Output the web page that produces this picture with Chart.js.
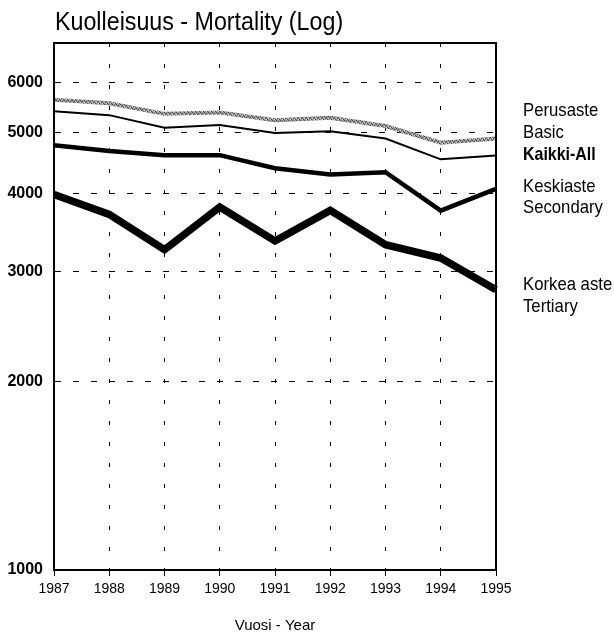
<!DOCTYPE html>
<html>
<head>
<meta charset="utf-8">
<title>Kuolleisuus - Mortality (Log)</title>
<script src="https://cdn.jsdelivr.net/npm/chart.js@4.4.1/dist/chart.umd.min.js"></script>
<style>
    html, body { margin: 0; padding: 0; background: #fff; }
    #wrap { position: relative; width: 614px; height: 635px; }
</style>
</head>
<body>
<div id="wrap"><canvas id="chart"></canvas></div>
<script>
// data

const years = ['1987','1988','1989','1990','1991','1992','1993','1994','1995'];

const basic     = [5640, 5570, 5355, 5380, 5230, 5280, 5120, 4815, 4890];
const all       = [5405, 5330, 5090, 5140, 4990, 5025, 4890, 4530, 4595];
const secondary = [4770, 4670, 4600, 4600, 4385, 4285, 4320, 3750, 4065];
const tertiary  = [3980, 3700, 3250, 3800, 3355, 3755, 3310, 3150, 2805];

const yTicks = [1000, 2000, 3000, 4000, 5000, 6000];

const titleText = 'Kuolleisuus - Mortality (Log)';
const xTitle = 'Vuosi - Year';

// labels on the right, top to bottom
const sideLabels = ['Perusaste', 'Basic', 'Kaikki-All', 'Keskiaste', 'Secondary', 'Korkea aste', 'Tertiary'];
const sideBold   = [false, false, true, false, false, false, false];
const sideY      = [111, 133, 155, 187, 208, 285, 307];

const SANS = '"Liberation Sans", Arial, sans-serif';
const TRANSPARENT = 'rgba(0,0,0,0)';

// speckled grey for the basic-education line
function greyPattern(){
    const c = document.createElement('canvas');
    c.width = 4; c.height = 4;
    const g = c.getContext('2d');
    g.fillStyle = '#9a9a9a';
    g.fillRect(0, 0, 4, 4);
    g.fillStyle = '#444';
    g.fillRect(0, 0, 1, 1);
    g.fillRect(2, 1, 1, 1);
    g.fillRect(1, 2, 1, 1);
    g.fillRect(3, 3, 1, 1);
    g.fillStyle = '#d8d8d8';
    g.fillRect(2, 3, 1, 1);
    g.fillRect(0, 2, 1, 1);
    return g.createPattern(c, 'repeat');
}

// squeezed text, the original uses a condensed face
function narrowText(ctx, text, x, y, squeeze){
    ctx.save();
    ctx.translate(x, y);
    ctx.scale(squeeze, 1);
    ctx.fillText(text, 0, 0);
    ctx.restore();
}

// frame, title and the right-hand labels
const decorations = {
    id: 'decorations',
    afterDraw(chart){
        const {ctx, chartArea: a} = chart;
        ctx.save();
        ctx.strokeStyle = '#000';
        ctx.lineWidth = 2;
        ctx.strokeRect(a.left, a.top, a.right - a.left, a.bottom - a.top);

        ctx.fillStyle = '#000';
        ctx.textBaseline = 'middle';
        ctx.textAlign = 'left';
        ctx.font = '25px ' + SANS;
        narrowText(ctx, titleText, 55, 23, 0.93);

        sideLabels.forEach((t, i) => {
            ctx.font = (sideBold[i] ? 'bold ' : '') + '19px ' + SANS;
            narrowText(ctx, t, 523, sideY[i], sideBold[i] ? 0.84 : 0.88);
        });
        ctx.restore();
    }
};

function line(label, data, color, width){
    return {
        label,
        data,
        borderColor: color,
        borderWidth: width,
        pointRadius: 0,
        tension: 0,
        fill: false
    };
}

const chart = new Chart('chart', {
    type: 'line',
    data: {
        labels: years,
        datasets: [
            line('Perusaste - Basic', basic, greyPattern(), 4),
            line('Kaikki - All', all, '#000', 2),
            line('Keskiaste - Secondary', secondary, '#000', 4.5),
            line('Korkea aste - Tertiary', tertiary, '#000', 7.5)
        ]
    },
    options: {
        responsive: true,
        maintainAspectRatio: false,
        animation: false,
        layout: {
            padding: {left: 0, right: 118, top: 43, bottom: 0}
        },
        plugins: {
            legend: {display: false},
            tooltip: {enabled: false},
            title: {display: false}
        },
        scales: {
            x: {
                type: 'category',
                offset: false,
                afterFit(scale){ scale.height = 65; },
                grid: {
                    offset: false,
                    color: c => (c.index === 0 || c.index === years.length - 1) ? TRANSPARENT : '#000',
                    lineWidth: 1,
                    drawTicks: true,
                    tickLength: 6,
                    tickColor: '#000',
                    tickWidth: 1,
                    tickBorderDash: []
                },
                border: {display: true, color: '#000', width: 2, dash: [4, 17]},
                ticks: {
                    color: '#000',
                    padding: 5,
                    maxRotation: 0,
                    autoSkip: false,
                    font: {family: SANS, size: 14}
                },
                title: {
                    display: true,
                    text: xTitle,
                    color: '#000',
                    padding: {top: 0, bottom: 0},
                    font: {family: SANS, size: 15}
                }
            },
            y: {
                type: 'logarithmic',
                min: 1000,
                max: 6950,
                afterFit(scale){ scale.width = 54; },
                afterBuildTicks(scale){
                    scale.ticks = yTicks.map(v => ({value: v}));
                },
                grid: {
                    color: c => (c.tick && c.tick.value === 1000) ? TRANSPARENT : '#000',
                    lineWidth: 1,
                    drawTicks: false
                },
                border: {display: true, color: '#000', width: 2, dash: [6, 12]},
                ticks: {
                    color: '#000',
                    padding: 11,
                    callback: v => String(v),
                    font: {family: SANS, size: 16, weight: 'bold'}
                }
            }
        }
    },
    plugins: [decorations]
});
</script>
</body>
</html>
